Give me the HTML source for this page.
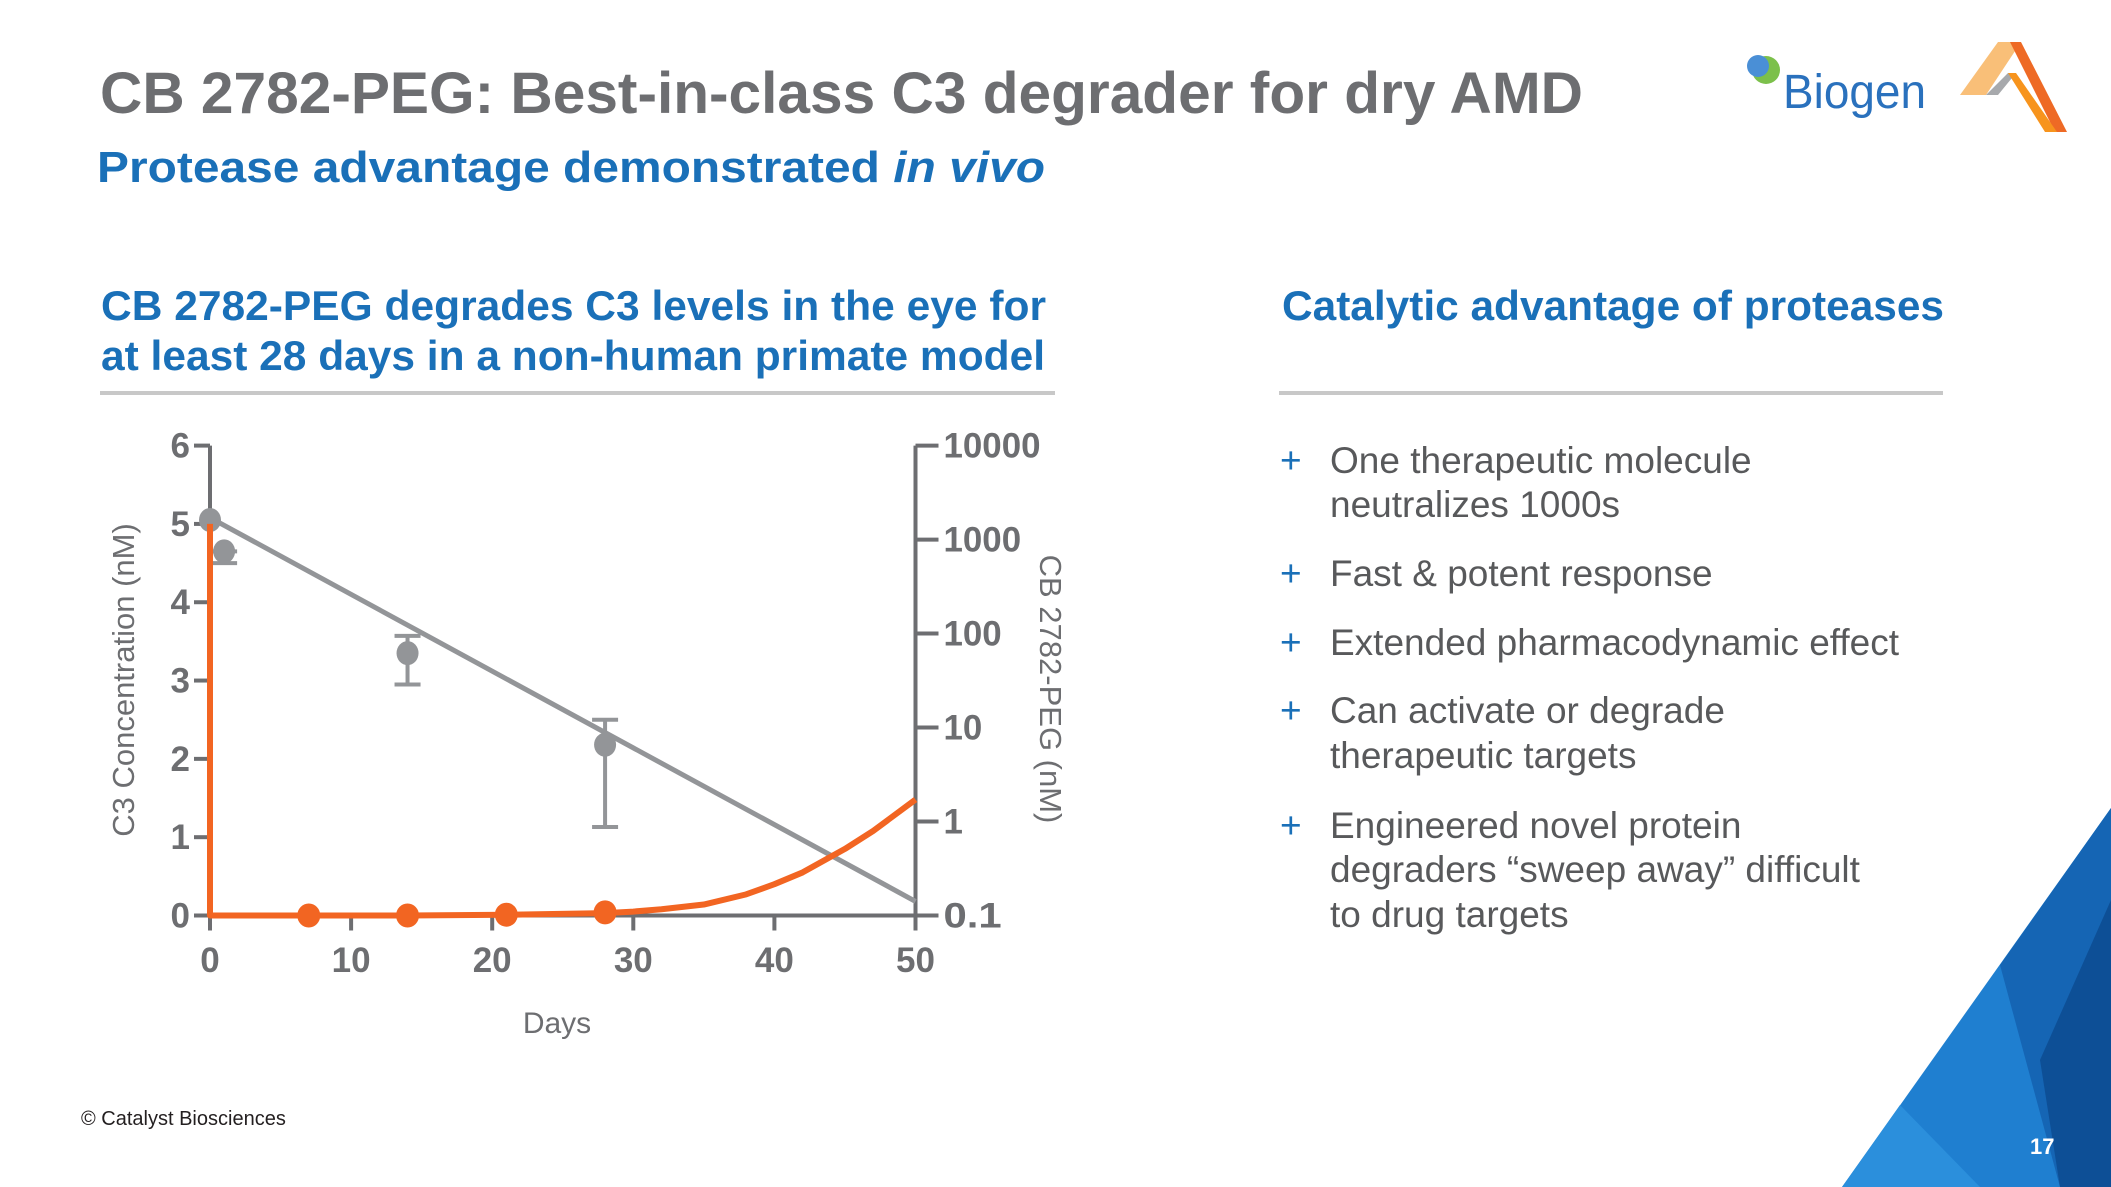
<!DOCTYPE html>
<html><head><meta charset="utf-8"><style>
html,body{margin:0;padding:0;background:#fff;}
svg{display:block;font-family:"Liberation Sans",Arial,sans-serif;}
</style></head><body>
<svg id="s" width="2111" height="1187" viewBox="0 0 2111 1187" xmlns="http://www.w3.org/2000/svg">
<text x="100" y="113" font-size="58" font-weight="bold" fill="#6d6e71" textLength="1483" lengthAdjust="spacingAndGlyphs">CB 2782-PEG: Best-in-class C3 degrader for dry AMD</text>
<text x="97" y="182" font-size="44" font-weight="bold" fill="#1a70b8" textLength="948" lengthAdjust="spacingAndGlyphs">Protease advantage demonstrated <tspan font-style="italic">in vivo</tspan></text>
<text x="101" y="320" font-size="42" font-weight="bold" fill="#1a70b8" textLength="945" lengthAdjust="spacingAndGlyphs">CB 2782-PEG degrades C3 levels in the eye for</text>
<text x="101" y="370" font-size="42" font-weight="bold" fill="#1a70b8" textLength="944" lengthAdjust="spacingAndGlyphs">at least 28 days in a non-human primate model</text>
<rect x="100" y="391" width="955" height="4" fill="#c8c8c8"/>
<text x="1282" y="320" font-size="42" font-weight="bold" fill="#1a70b8" textLength="662" lengthAdjust="spacingAndGlyphs">Catalytic advantage of proteases</text>
<rect x="1279" y="391" width="664" height="4" fill="#c8c8c8"/>
<g font-size="37" fill="#58595b">
<text x="1280" y="473" fill="#1a70b8">+</text>
<text x="1330" y="473">One therapeutic molecule</text>
<text x="1330" y="517">neutralizes 1000s</text>
<text x="1280" y="586" fill="#1a70b8">+</text>
<text x="1330" y="586">Fast &amp; potent response</text>
<text x="1280" y="655" fill="#1a70b8">+</text>
<text x="1330" y="655">Extended pharmacodynamic effect</text>
<text x="1280" y="723" fill="#1a70b8">+</text>
<text x="1330" y="723">Can activate or degrade</text>
<text x="1330" y="768">therapeutic targets</text>
<text x="1280" y="838" fill="#1a70b8">+</text>
<text x="1330" y="838">Engineered novel protein</text>
<text x="1330" y="882">degraders “sweep away” difficult</text>
<text x="1330" y="927">to drug targets</text>
</g>
<text x="81" y="1125" font-size="20" fill="#231f20">© Catalyst Biosciences</text>
<g>
<polygon points="2111,808 1842,1187 2111,1187" fill="#1f7fd0"/>
<polygon points="2111,808 2000,965 2060,1187 2111,1187" fill="#1565b4"/>
<polygon points="2111,900 2111,1187 2060,1187 2040,1060" fill="#0d4f96"/>
<polygon points="1900,1105 1842,1187 1980,1187" fill="#2b8fdc"/>
</g>
<text x="2030" y="1154" font-size="22" font-weight="bold" fill="#fff">17</text>
<g>
<circle cx="1766" cy="70" r="14" fill="#7cc04b"/>
<circle cx="1758" cy="66" r="11" fill="#4a8fd6"/>
<text x="1783" y="108" font-size="48" fill="#2a71bd" textLength="143" lengthAdjust="spacingAndGlyphs">Biogen</text>
</g>
<g>
<polygon points="1998,42 2021,42 1986,95 1960,95" fill="#f9bf78"/>
<polygon points="2010,42 2021,42 2067,132 2055,132" fill="#ee6a25"/>
<polygon points="1986,95 2008,73 2016,73 1998,95" fill="#a7a9ac"/>
<polygon points="2008,73 2016,73 2057,132 2045,132" fill="#f7941d"/>
</g>
<g id="chart"></g>
</svg>
<script>
const xTicks = [0,10,20,30,40,50];
const yTicks = [0,1,2,3,4,5,6];
const yRightTicks = ["0.1","1","10","100","1000","10000"];
const c3Days = [0,1,14,28];
const c3Values = [5.05,4.65,3.35,2.18];
const c3ErrLow = [5.05,4.5,2.95,1.13];
const c3ErrHigh = [5.05,4.65,3.57,2.5];
const fitDays = [0,50];
const fitValues = [5.08,0.18];
const pegDays = [0,0,7,14,21,28,30,32,35,38,40,42,45,47,50];
const pegValues = [5.0,0,0,0,0.01,0.03,0.05,0.08,0.14,0.27,0.4,0.55,0.85,1.08,1.48];
const pegPointDays = [7,14,21,28];
const pegPointValues = [0,0,0.01,0.04];

const NS='http://www.w3.org/2000/svg';
const g=document.getElementById('chart');
const X0=210,X1=915.5,Y0=915.5,Y1=445.6;
const sx=d=>X0+(d-0)/(50-0)*(X1-X0);
const sy=v=>Y0-(v/6)*(Y0-Y1);
const syR=i=>Y0-i/(yRightTicks.length-1)*(Y0-Y1);
const AX='#6d6e71';
function mk(tag,attrs,parent){const e=document.createElementNS(NS,tag);for(const k in attrs)e.setAttribute(k,attrs[k]);(parent||g).appendChild(e);return e;}

let e;
e=mk('line',{x1:X0,y1:Y1,x2:X0,y2:Y0,stroke:AX,'stroke-width':4});


e=mk('line',{x1:X1,y1:Y1,x2:X1,y2:Y0,stroke:AX,'stroke-width':4});


e=mk('line',{x1:X0-2,y1:Y0,x2:X1+2,y2:Y0,stroke:AX,'stroke-width':4});


yTicks.forEach(v=>{
  const t=mk('line',{x1:X0-16,y1:sy(v),x2:X0,y2:sy(v),stroke:AX,'stroke-width':4});
  
  
  const l=mk('text',{x:X0-20,y:sy(v)+12,'font-size':35,'font-weight':'bold',fill:AX,'text-anchor':'end'});
  l.textContent=v;
  
  
});
yRightTicks.forEach((s,i)=>{
  const t=mk('line',{x1:X1,y1:syR(i),x2:X1+23,y2:syR(i),stroke:AX,'stroke-width':4});
  
  
  const l=mk('text',{x:X1+28,y:syR(i)+12,'font-size':35,'font-weight':'bold',fill:AX,textLength:s.length*19.4,lengthAdjust:'spacingAndGlyphs'});
  l.textContent=s;
  
  
});
xTicks.forEach(d=>{
  const t=mk('line',{x1:sx(d),y1:Y0,x2:sx(d),y2:Y0+15,stroke:AX,'stroke-width':4});
  
  
  const l=mk('text',{x:sx(d),y:972,'font-size':35,'font-weight':'bold',fill:AX,'text-anchor':'middle'});
  l.textContent=d;
  
  
});
e=mk('text',{x:0,y:0,'font-size':31,fill:AX,'text-anchor':'middle',transform:'translate(134,680) rotate(-90)'});
e.textContent='C3 Concentration (nM)';


e=mk('text',{x:0,y:0,'font-size':31,fill:AX,'text-anchor':'middle',transform:'translate(1040,689) rotate(90)'});
e.textContent='CB 2782-PEG (nM)';


e=mk('text',{x:557,y:1033,'font-size':30,fill:AX,'text-anchor':'middle'});
e.textContent='Days';



e=mk('polyline',{points:fitDays.map((d,i)=>sx(d)+','+sy(fitValues[i])).join(' '),fill:'none',stroke:'#939598','stroke-width':5});


c3Days.forEach((d,i)=>{
  const x=sx(d);
  if(c3ErrHigh[i]!==c3ErrLow[i]){
    const b=mk('path',{d:`M${x},${sy(c3ErrLow[i])}V${sy(c3ErrHigh[i])}M${x-13},${sy(c3ErrLow[i])}h26M${x-13},${sy(c3ErrHigh[i])}h26`,stroke:'#939598','stroke-width':4,fill:'none'});
    
    
  }
  const c=mk('ellipse',{cx:x,cy:sy(c3Values[i]),rx:11,ry:12,fill:'#939598'});
  
  
});
e=mk('polyline',{points:pegDays.map((d,i)=>sx(d)+','+sy(pegValues[i])).join(' '),fill:'none',stroke:'#f26522','stroke-width':6,'stroke-linejoin':'round'});


pegPointDays.forEach((d,i)=>{
  const c=mk('ellipse',{cx:sx(d),cy:sy(pegPointValues[i]),rx:11.5,ry:12,fill:'#f26522'});
  
  
});
</script>
</body></html>
